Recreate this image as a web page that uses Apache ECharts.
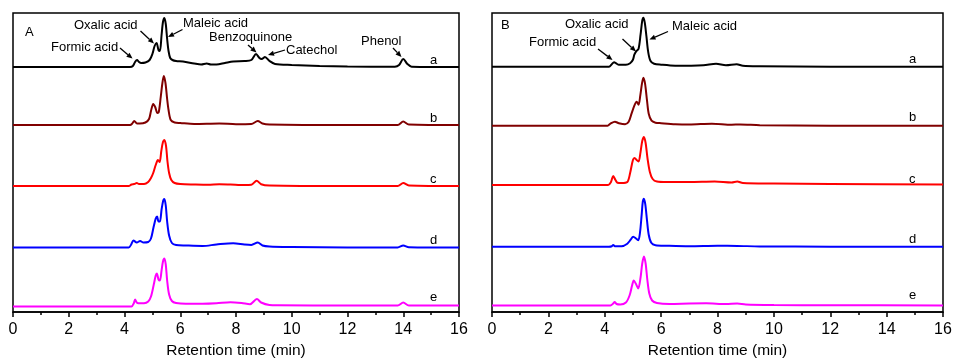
<!DOCTYPE html>
<html>
<head>
<meta charset="utf-8">
<script src="https://cdn.jsdelivr.net/npm/echarts@6/dist/echarts.min.js"></script>
<style>
  html, body { margin: 0; padding: 0; background: #fff; }
  #chart { width: 954px; height: 358px; }
</style>
</head>
<body>
<div id="chart"></div>
<script>
// retention time (min) vs. signal height above each trace's own baseline
const traceA_a = [[0,0],[4.2,0],[4.3,1],[4.38,5],[4.45,7],[4.52,5],[4.6,4],[4.75,4.5],[4.9,7],[5.0,13],[5.08,21],[5.15,24],[5.22,17],[5.27,16],[5.33,32],[5.38,45],[5.43,49],[5.48,43],[5.53,28],[5.58,16],[5.64,9],[5.72,7],[5.85,6],[6.1,5.5],[6.5,3.5],[6.75,2.5],[6.95,3.5],[7.1,2.5],[7.3,2.5],[7.6,4],[7.9,5.5],[8.3,6],[8.55,7],[8.72,13],[8.84,9],[8.92,8],[9.04,10],[9.2,6],[9.4,3],[10,2],[11,1],[12,0.5],[13.7,0.3],[13.85,2],[14.0,8],[14.15,3],[14.3,0.3],[16,0]];
const traceA_b = [[0,0],[4.2,0],[4.28,1.5],[4.35,4],[4.45,1.5],[4.55,1.5],[4.75,2.5],[4.88,6],[4.95,14],[5.03,21],[5.1,18],[5.18,12],[5.23,13],[5.3,28],[5.36,42],[5.41,49],[5.47,42],[5.53,26],[5.58,15],[5.66,5],[5.8,2.5],[6.0,2],[6.5,1],[7.4,1.5],[8.0,0.8],[8.55,1],[8.78,4],[8.95,1.5],[9.2,0.5],[12,0],[13.8,0],[14.0,3.5],[14.2,0.5],[16,0]];
const traceA_c = [[0,0],[4.15,0],[4.25,1.5],[4.35,2],[4.44,3],[4.52,2],[4.7,2],[4.85,4],[4.95,8],[5.03,13],[5.12,21],[5.2,26],[5.26,24],[5.32,35],[5.38,44],[5.43,46],[5.49,40],[5.54,25],[5.6,13],[5.68,6],[5.8,3],[6.0,2],[6.5,1.5],[7.0,1.2],[7.4,1.8],[7.8,1.5],[8.3,1],[8.55,1.2],[8.74,5.3],[8.9,1.8],[9.2,0.5],[12,0],[13.8,0],[14.0,3],[14.2,0.5],[16,0]];
const traceA_d = [[0,0],[4.15,0],[4.24,3],[4.32,7],[4.44,5],[4.56,6.5],[4.68,5],[4.85,5.5],[4.95,9],[5.04,20],[5.12,29],[5.17,31],[5.22,26],[5.27,26],[5.33,38],[5.39,47],[5.43,48.5],[5.48,42],[5.53,26],[5.6,12],[5.7,4.5],[5.85,2.5],[6.2,2],[6.8,1.5],[7.3,3],[7.9,4.3],[8.3,3],[8.55,2.5],[8.78,5],[8.95,2],[9.2,1],[10,0.5],[12,0],[13.8,0],[14.0,2],[14.2,0.3],[16,0]];
const traceA_e = [[0,0],[4.25,0],[4.33,3],[4.38,7],[4.44,4],[4.5,3.3],[4.7,3.3],[4.85,5],[4.95,10],[5.05,22],[5.12,31],[5.16,33],[5.22,27],[5.27,26],[5.33,36],[5.38,45],[5.43,48],[5.48,42],[5.53,26],[5.6,12],[5.7,5.5],[5.85,3.5],[6.2,2.7],[6.8,2.7],[7.3,3.2],[7.8,4.3],[8.2,3.5],[8.5,2.3],[8.75,7.5],[8.9,4],[9.2,1.5],[9.5,1.2],[12,1],[13.8,1],[14.0,4],[14.2,1],[16,1]];

const traceB_a = [[0,0],[4.15,0],[4.25,2.5],[4.33,4.5],[4.42,3],[4.5,2],[4.75,2],[4.9,3.5],[5.0,7],[5.05,12],[5.12,15.5],[5.2,18],[5.27,32],[5.33,46],[5.37,49],[5.42,44],[5.48,30],[5.54,15],[5.62,6],[5.75,3],[6.0,2],[6.5,1],[7.5,1.5],[7.95,3],[8.3,1.5],[8.68,2.5],[8.9,1],[9.5,0.5],[12,0],[16,0]];
const traceB_b = [[0,0],[4.1,0],[4.2,2],[4.36,4],[4.5,2.5],[4.72,1.5],[4.85,4],[4.95,12],[5.05,20],[5.13,24],[5.2,21],[5.26,30],[5.32,42],[5.37,48],[5.43,42],[5.5,25],[5.56,12],[5.66,5],[5.8,3],[6.0,2.5],[6.5,1.5],[7.0,1.2],[7.8,2],[8.5,1],[8.8,1.2],[9.5,0.5],[12,0],[16,0]];
const traceB_c = [[0,0],[4.12,0],[4.22,3],[4.3,9],[4.38,5],[4.45,2.3],[4.6,2],[4.8,3],[4.9,12],[5.0,25],[5.06,27],[5.13,25],[5.2,23.5],[5.27,33],[5.33,44],[5.39,48],[5.45,42],[5.52,26],[5.6,13],[5.7,6],[5.85,3.5],[6.2,3],[7.0,3],[7.9,3.5],[8.5,2.5],[8.7,3.5],[8.9,2],[10,1.5],[12,1],[16,0.5]];
const traceB_d = [[0,0],[4.15,0],[4.25,0.5],[4.3,1.7],[4.36,0.5],[4.6,0.5],[4.8,3],[4.92,7],[5.01,10],[5.12,8],[5.19,6.5],[5.25,14],[5.31,32],[5.35,45],[5.39,48],[5.44,42],[5.5,26],[5.56,12],[5.65,4],[5.8,1.5],[6.2,1],[7.0,0.5],[8.0,1],[8.7,0.8],[9.5,0.3],[12,0],[16,0]];
const traceB_e = [[0,0],[4.2,0],[4.3,2],[4.35,3.5],[4.42,1.5],[4.55,1],[4.75,3],[4.88,10],[4.97,20],[5.03,25],[5.1,22],[5.19,17],[5.27,28],[5.33,42],[5.39,49],[5.45,42],[5.51,26],[5.58,12],[5.68,5],[5.85,2.5],[6.3,1.5],[7.0,2],[7.6,2.2],[8.3,1.5],[8.7,2],[9.0,1],[10,0.5],[12,0.3],[16,0]];

const traceLabels = ["a", "b", "c", "d", "e"];
const traceColors = ["#000000", "#800000", "#ff0000", "#0000ff", "#ff00ff"];
const offsetsA = [245, 187, 126, 64.5, 5.5];
const offsetsB = [245.3, 186.3, 127, 65.3, 6.5];
const xTicks = [0, 16, 2];

const chart = echarts.init(document.getElementById("chart"));

const FONT = "'Liberation Sans', Arial, sans-serif";

const makeSeries = (traces, offsets, axisIndex) =>
  traces.map((tr, i) => ({
    name: traceLabels[i],
    type: "line",
    xAxisIndex: axisIndex,
    yAxisIndex: axisIndex,
    smooth: 0.3,
    showSymbol: false,
    silent: true,
    data: tr.map((p) => [p[0], p[1] + offsets[i]]),
    lineStyle: { color: traceColors[i], width: 2 },
    itemStyle: { color: traceColors[i] },
  }));

const makeX = (gridIndex) => ({
  type: "value",
  gridIndex,
  min: xTicks[0],
  max: xTicks[1],
  interval: xTicks[2],
  name: "Retention time (min)",
  nameLocation: "middle",
  nameGap: 25,
  nameTextStyle: { color: "#000", fontSize: 15.5, fontFamily: FONT },
  axisLine: { lineStyle: { color: "#000", width: 1.5 } },
  axisTick: { inside: false, length: 5, lineStyle: { color: "#000", width: 1.5 } },
  minorTick: { show: true, splitNumber: 2, length: 3, lineStyle: { color: "#000", width: 1.5 } },
  axisLabel: { color: "#000", fontSize: 16, fontFamily: FONT, margin: 10 },
  splitLine: { show: false },
});

const makeY = (gridIndex) => ({
  type: "value",
  gridIndex,
  min: 0,
  max: 299,
  show: false,
});

// annotation arrows: line plus filled head
const arrow = (x1, y1, x2, y2) => {
  const ang = Math.atan2(y2 - y1, x2 - x1);
  const L = 6, W = 2.6;
  const bx = x2 - L * Math.cos(ang), by = y2 - L * Math.sin(ang);
  const nx = -Math.sin(ang), ny = Math.cos(ang);
  return [
    { type: "line", silent: true, shape: { x1, y1, x2: bx, y2: by }, style: { stroke: "#000", lineWidth: 1.3 } },
    { type: "polygon", silent: true, shape: { points: [[x2, y2], [bx + nx * W, by + ny * W], [bx - nx * W, by - ny * W]] }, style: { fill: "#000" } },
  ];
};

const text = (x, y, s, align) => ({
  type: "text",
  silent: true,
  x, y,
  style: { text: s, fill: "#000", font: "13px " + FONT, align: align || "left", verticalAlign: "middle" },
});

const labelYsA = [60, 118, 179, 240, 297];
const labelYsB = [59, 117, 179, 239, 295];

const graphics = [
  text(25, 32, "A"),
  text(51, 47, "Formic acid"),
  text(74, 25, "Oxalic acid"),
  text(183, 23, "Maleic acid"),
  text(209, 37, "Benzoquinone"),
  text(286, 50, "Catechol"),
  text(361, 41, "Phenol"),
  ...arrow(120, 48, 132.5, 58.5),
  ...arrow(140.5, 31, 154, 43.5),
  ...arrow(182.5, 29.5, 168, 37),
  ...arrow(248, 45, 256.5, 52.5),
  ...arrow(285, 50, 268, 55),
  ...arrow(393, 48, 401.5, 57),

  text(501, 25, "B"),
  text(529, 42, "Formic acid"),
  text(565, 24, "Oxalic acid"),
  text(672, 26, "Maleic acid"),
  ...arrow(598, 49, 612.5, 60),
  ...arrow(622.5, 39, 636, 51.5),
  ...arrow(668, 31.5, 649.5, 39.5),
];
traceLabels.forEach((l, i) => {
  graphics.push(text(430, labelYsA[i], l));
  graphics.push(text(909, labelYsB[i], l));
});

const option = {
  animation: false,
  backgroundColor: "#fff",
  grid: [
    { left: 13, top: 13, width: 446, height: 299, show: true, borderColor: "#000", borderWidth: 1.5, containLabel: false, outerBoundsMode: "none" },
    { left: 492, top: 13, width: 451, height: 299, show: true, borderColor: "#000", borderWidth: 1.5, containLabel: false, outerBoundsMode: "none" },
  ],
  xAxis: [makeX(0), makeX(1)],
  yAxis: [makeY(0), makeY(1)],
  series: [
    ...makeSeries([traceA_a, traceA_b, traceA_c, traceA_d, traceA_e], offsetsA, 0),
    ...makeSeries([traceB_a, traceB_b, traceB_c, traceB_d, traceB_e], offsetsB, 1),
  ],
  graphic: graphics,
};

chart.setOption(option);
</script>
</body>
</html>
